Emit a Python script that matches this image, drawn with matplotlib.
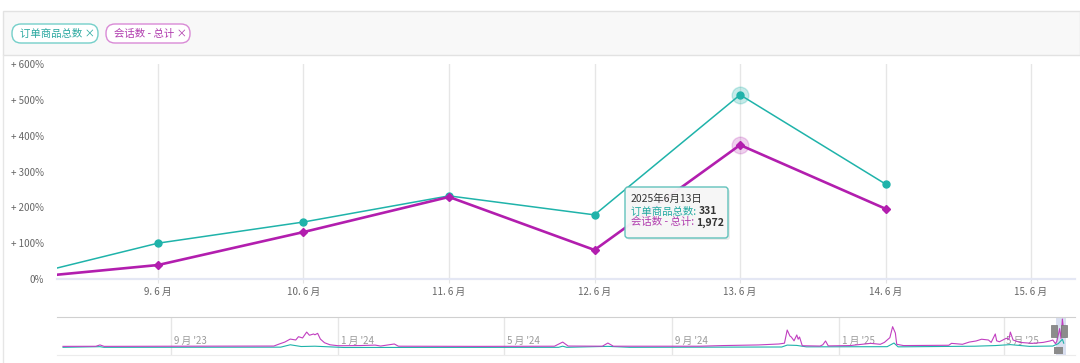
import matplotlib
matplotlib.use('Agg')
import matplotlib.pyplot as plt
from matplotlib.patches import FancyBboxPatch, Rectangle
import pandas as pd

plt.rcParams['font.family'] = ['Noto Sans CJK SC', 'DejaVu Sans']

TEAL = '#1fb3aa'
MAGENTA = '#b21eae'

# main chart, percent change compared with 8 June
days = [8, 9, 10, 11, 12, 13, 14]
orders_pct = [0, 100, 159, 232, 179, 514, 265]
sessions_pct = [0, 39, 131, 229, 81, 374, 196]
tick_days = [9, 10, 11, 12, 13, 14, 15]
y_ticks = [0, 100, 200, 300, 400, 500, 600]
y_labels = ['0%', '+ 100%', '+ 200%', '+ 300%', '+ 400%', '+ 500%', '+ 600%']
series_names = ['订单商品总数', '会话数 - 总计']

hover_idx = 5
tooltip_date = '2025年6月13日'
tooltip_orders = '331'
tooltip_sessions = '1,972'

# navigator (two years of daily data, rough shape)
nav_session_dates = [
    '2023-06-14', '2023-07-08', '2023-07-11', '2023-07-14', '2023-09-04', '2023-11-15',
    '2023-11-19', '2023-11-23', '2023-11-27', '2023-12-01', '2023-12-03', '2023-12-06',
    '2023-12-09', '2023-12-11', '2023-12-14', '2023-12-15', '2023-12-17', '2023-12-19',
    '2023-12-22', '2023-12-26', '2024-01-01', '2024-01-17', '2024-01-28', '2024-02-01',
    '2024-02-11', '2024-02-14', '2024-04-13', '2024-06-07', '2024-06-13', '2024-06-17',
    '2024-07-12', '2024-07-16', '2024-07-20', '2024-09-21', '2024-10-08', '2024-11-03',
    '2024-11-18', '2024-11-22', '2024-11-24', '2024-11-26', '2024-11-27', '2024-11-29',
    '2024-12-01', '2024-12-02', '2024-12-03', '2024-12-05', '2024-12-18', '2024-12-20',
    '2024-12-22', '2024-12-24', '2025-01-09', '2025-01-24', '2025-01-31', '2025-02-03',
    '2025-02-07', '2025-02-09', '2025-02-11', '2025-02-12', '2025-02-17', '2025-03-22',
    '2025-03-24', '2025-04-01', '2025-04-06', '2025-04-11', '2025-04-15', '2025-04-20',
    '2025-04-22', '2025-04-25', '2025-04-26', '2025-04-28', '2025-05-03', '2025-05-05',
    '2025-05-06', '2025-05-08', '2025-05-13', '2025-05-22', '2025-05-30', '2025-06-04',
    '2025-06-06', '2025-06-08', '2025-06-09', '2025-06-10', '2025-06-11', '2025-06-12',
    '2025-06-13', '2025-06-14']
nav_sessions = [
    250, 255, 340, 250, 260, 270,
    400, 520, 710, 650, 860, 780,
    1150, 950, 1030, 980, 1070, 710,
    480, 350, 290, 300, 330, 270,
    400, 260, 250, 260, 520, 270,
    260, 460, 260, 260, 300, 340,
    400, 450, 1280, 900, 840, 600,
    970, 700, 840, 290, 270, 350,
    590, 280, 300, 440, 380, 500,
    800, 1490, 1090, 380, 300, 320,
    440, 380, 520, 590, 700, 650,
    500, 1030, 600, 540, 760, 700,
    1150, 650, 500, 440, 500, 590,
    650, 416, 582, 961, 1369, 753,
    1972, 1231]

nav_order_dates = [
    '2023-06-14', '2023-07-11', '2023-07-14', '2023-11-20', '2023-11-27', '2023-12-05',
    '2023-12-15', '2024-01-05', '2024-06-10', '2024-06-13', '2024-06-16', '2024-07-16',
    '2024-08-01', '2024-11-20', '2024-11-24', '2024-12-01', '2024-12-08', '2025-02-05',
    '2025-02-10', '2025-02-13', '2025-04-10', '2025-04-25', '2025-05-06', '2025-05-20',
    '2025-06-06', '2025-06-10', '2025-06-13', '2025-06-14']
nav_orders = [
    190, 230, 190, 200, 350, 240,
    260, 180, 190, 260, 190, 250,
    190, 210, 330, 310, 220, 230,
    460, 220, 260, 300, 360, 250,
    270, 420, 700, 450]

nav_month_ticks = ['2023-09-01', '2024-01-01', '2024-05-01', '2024-09-01', '2025-01-01', '2025-05-01']
nav_month_labels = ["9 月 '23", "1 月 '24", "5 月 '24", "9 月 '24", "1 月 '25", "5 月 '25"]

W, H = 1080, 363
fig = plt.figure(figsize=(10.8, 3.63), dpi=100)


def box(l, t, r, b):
    return [l / W, 1 - b / H, (r - l) / W, (b - t) / H]


# ---- main chart
ax = fig.add_axes(box(57, 64, 1075, 279))
ax.plot(days, orders_pct, color=TEAL, lw=1.1, marker='o', ms=5, zorder=3)
ax.plot(days, sessions_pct, color=MAGENTA, lw=1.9, marker='D', ms=4, zorder=4)
# hover halos
ax.plot(days[hover_idx], orders_pct[hover_idx], 'o', ms=12, color=TEAL, alpha=0.25, zorder=2)
ax.plot(days[hover_idx], sessions_pct[hover_idx], 'o', ms=12, color=MAGENTA, alpha=0.2, zorder=2)

ax.set_xlim(8.306, 15.302)
ax.set_ylim(0, 600)
ax.set_xticks(tick_days)
ax.set_xticklabels([f'{d}. 6 月' for d in tick_days])
ax.set_yticks(y_ticks)
ax.set_yticklabels(y_labels)
ax.grid(axis='x', color='#e6e6e6', lw=1)
ax.set_axisbelow(True)
for s in ['top', 'left', 'right']:
    ax.spines[s].set_visible(False)
ax.spines['bottom'].set_color('#e4e7f4')
ax.spines['bottom'].set_linewidth(1.6)
ax.tick_params(axis='x', length=3, color='#e6e6e6', labelsize=7, labelcolor='#666666', pad=3)
ax.tick_params(axis='y', length=0, labelsize=7, labelcolor='#666666', pad=9.5)

# ---- navigator
nav = fig.add_axes(box(57, 317, 1075, 355))
nav_start = pd.Timestamp('2023-06-14')
px_day = 1.369
nav.set_xlim(nav_start - pd.Timedelta(days=6 / px_day), nav_start + pd.Timedelta(days=1012 / px_day))
nav.set_ylim(-294, 2100)
for d in nav_month_ticks:
    nav.axvline(pd.Timestamp(d), color='#e6e6e6', lw=1, zorder=0)
for d, lab in zip(nav_month_ticks, nav_month_labels):
    nav.text(pd.Timestamp(d) + pd.Timedelta(days=2), 0.37, lab, transform=nav.get_xaxis_transform(),
             fontsize=7, color='#9a9a9a', va='center', ha='left', zorder=1)
nav.plot(pd.to_datetime(nav_order_dates), nav_orders, color=TEAL, lw=0.8, zorder=2)
nav.plot(pd.to_datetime(nav_session_dates), nav_sessions, color='#c13fc0', lw=0.8, zorder=3)
sel0 = pd.Timestamp('2025-06-08') + pd.Timedelta(days=ax.get_xlim()[0] - 8)
sel1 = pd.Timestamp('2025-06-08') + pd.Timedelta(days=ax.get_xlim()[1] - 8)
nav.axvspan(sel0, sel1, color='#c9d2ea', alpha=0.7, zorder=1, lw=0)
nav.set_xticks([])
nav.set_yticks([])
nav.spines['left'].set_visible(False)
nav.spines['right'].set_visible(False)
nav.spines['top'].set_color('#d0d0d0')
nav.spines['bottom'].set_color('#ececec')
nav.patch.set_alpha(0)

# ---- overlay in pixel coordinates (header, chips, tooltip)
ov = fig.add_axes([0, 0, 1, 1], zorder=10)
ov.set_xlim(0, W)
ov.set_ylim(H, 0)
ov.axis('off')
ov.patch.set_alpha(0)

ov.add_patch(Rectangle((3, 11), W - 3, 44, fc='#f8f8f8', ec='#e2e2e2', lw=1))
ov.plot([3, 3], [55, H], color='#e6e6e6', lw=1)

chips = [(12, 98, 20, '#74cfc9', '#2aa8a0'), (106, 190, 114, '#d98ad6', '#b03cae')]
for name, (l, r, tx, ec, tc) in zip(series_names, chips):
    ov.add_patch(FancyBboxPatch((l, 24), r - l, 19, boxstyle='round,pad=0,rounding_size=9',
                                fc='white', ec=ec, lw=1))
    ov.text(tx, 33.5, name + ' ×', fontsize=7.5, color=tc, va='center', ha='left')

# navigator handles
for hx in [1051, 1061]:
    ov.add_patch(Rectangle((hx, 325), 6, 12, fc='#8c8c8c', ec='#777777', lw=0.5))
ov.add_patch(Rectangle((1054, 347), 9, 7, fc='#8c8c8c', ec='none'))

# tooltip
ov.add_patch(FancyBboxPatch((627, 189), 103, 51, boxstyle='round,pad=0,rounding_size=3',
                            fc='#000000', ec='none', alpha=0.08))
ov.add_patch(FancyBboxPatch((625, 187), 103, 51, boxstyle='round,pad=0,rounding_size=3',
                            fc='#f7f7f7', ec='#5cc0b9', lw=1, alpha=0.96))
ov.text(631, 199, tooltip_date, fontsize=7.5, color='#333333', va='center', ha='left')
renderer = fig.canvas.get_renderer()
rows = [(series_names[0], tooltip_orders, '#22a9a1', 211.5),
        (series_names[1], tooltip_sessions, '#b03cae', 222.5)]
for name, val, c, ty in rows:
    t = ov.text(631, ty, name + ': ', fontsize=7.5, color=c, va='center', ha='left')
    bb = t.get_window_extent(renderer=renderer)
    x_end = ov.transData.inverted().transform((bb.x1, bb.y0))[0]
    ov.text(x_end, ty, val, fontsize=7.5, color='#333333', fontweight='bold', va='center', ha='left')

plt.savefig('out.png', dpi=100)
